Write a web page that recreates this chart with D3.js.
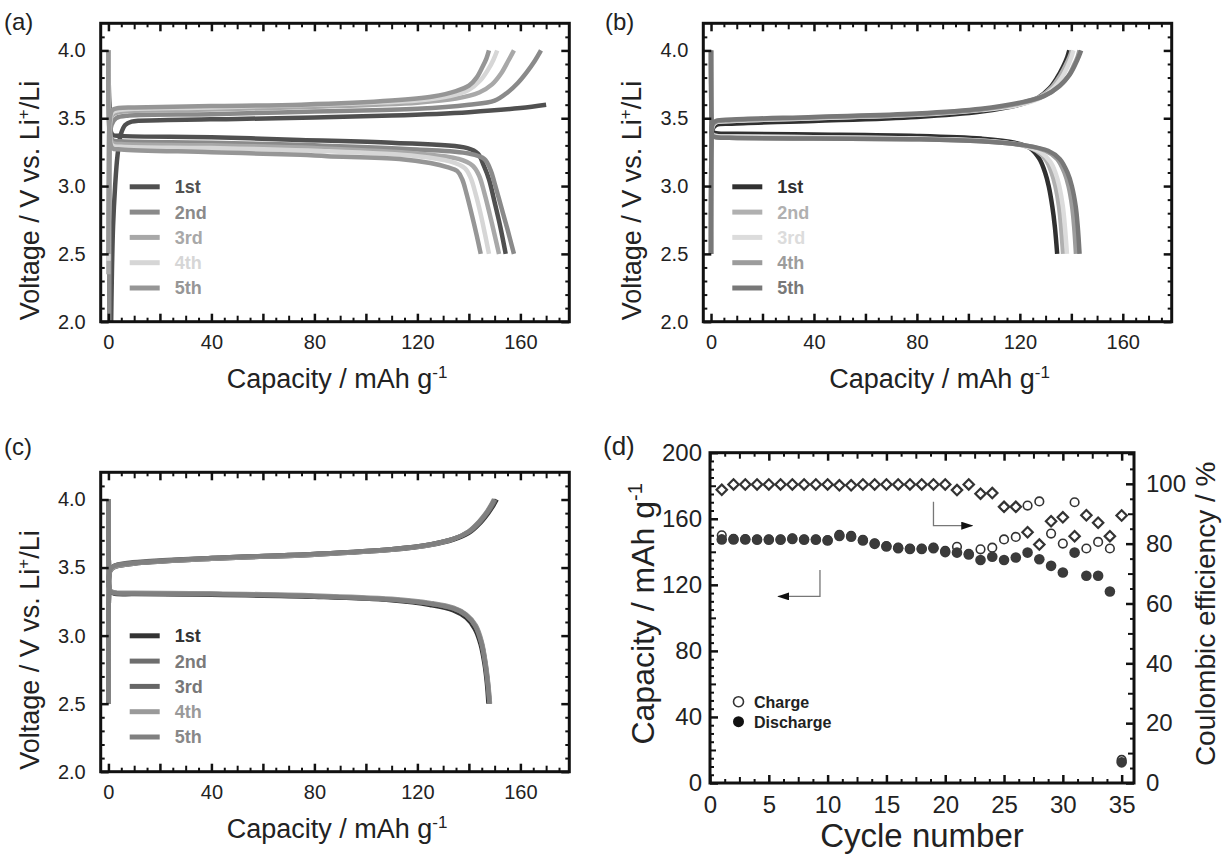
<!DOCTYPE html>
<html>
<head>
<meta charset="utf-8">
<style>
  body { margin: 0; background: #fff; }
  svg { display: block; font-family: "Liberation Sans", Arial, sans-serif; }
  .frame { fill: none; stroke: #111; stroke-width: 3; }
  .curve { fill: none; stroke-width: 4.5; stroke-linejoin: round; stroke-linecap: butt; }
  .lbl { font-size: 20px; fill: #222; }
  .ttl { font-size: 27px; fill: #222; }
  .leg { font-size: 18px; font-weight: bold; }
</style>
</head>
<body>
<svg width="1223" height="854"></svg>
<script src="https://d3js.org/d3.v7.min.js"></script>
<script>
// ---- data ----
var cycleNames = ["1st", "2nd", "3rd", "4th", "5th"];
var capTicks = [0, 40, 80, 120, 160];
var voltTicks = [2.0, 2.5, 3.0, 3.5, 4.0];

// panel (a)  [capacity mAh/g, voltage V]
var aColors = ["#505050", "#8a8a8a", "#a8a8a8", "#d6d6d6", "#969696"];
var aCharge = [
  [[1,1.9],[1.3,2.3],[1.8,2.7],[2.6,3.0],[3.5,3.22],[4.8,3.38],[6.5,3.45],[9,3.475],[20,3.485],[50,3.495],[80,3.505],[110,3.52],[140,3.545],[160,3.575],[170,3.6]],
  [[0.3,1.95],[0.4,2.8],[0.6,3.3],[1.2,3.45],[3,3.5],[8,3.52],[40,3.53],[80,3.55],[120,3.57],[140,3.6],[150,3.63],[155,3.69],[159,3.76],[162.5,3.84],[165.5,3.92],[168,4.0]],
  [[0,2.35],[0.2,3.0],[0.5,3.4],[1.5,3.52],[4,3.545],[10,3.555],[40,3.565],[80,3.585],[120,3.615],[135,3.645],[144,3.69],[149,3.75],[152.5,3.83],[155.2,3.92],[157.5,4.0]],
  [[0,2.45],[0.2,3.1],[0.5,3.45],[1.5,3.54],[4,3.56],[10,3.57],[40,3.58],[80,3.6],[120,3.63],[133,3.665],[140,3.71],[144.5,3.78],[147.5,3.86],[149.5,3.93],[151,4.0]],
  [[0,2.5],[0.2,3.2],[0.5,3.48],[1.5,3.56],[4,3.575],[10,3.58],[40,3.59],[75,3.6],[110,3.63],[126,3.66],[135,3.7],[140,3.74],[143,3.8],[145.3,3.88],[146.8,3.94],[147.8,4.0]]
];
var aDischarge = [
  [[0,4.0],[0.4,3.6],[1.5,3.38],[5,3.37],[40,3.36],[74.5,3.34],[110,3.32],[139.4,3.28],[143.5,3.24],[145.8,3.15],[147.8,3.05],[150,2.88],[152.2,2.7],[154.3,2.5]],
  [[0,4.0],[0.4,3.5],[1.5,3.34],[5,3.33],[40,3.32],[80,3.3],[120,3.27],[140,3.24],[146,3.2],[148.4,3.12],[150,3.02],[152.5,2.85],[155,2.68],[157.5,2.5]],
  [[0,4.0],[0.4,3.45],[1.5,3.32],[5,3.31],[40,3.3],[80,3.28],[120,3.24],[136,3.2],[141.5,3.15],[143.9,3.08],[146,2.95],[148,2.8],[150,2.64],[151.7,2.5]],
  [[0,4.0],[0.4,3.42],[1.5,3.3],[5,3.29],[40,3.28],[80,3.26],[120,3.22],[133,3.18],[138.5,3.13],[140.7,3.06],[142.5,2.95],[144.5,2.8],[146.2,2.65],[147.8,2.5]],
  [[0,4.0],[0.4,3.4],[1.5,3.28],[5,3.27],[40,3.25],[74.5,3.23],[85,3.22],[113,3.2],[125,3.17],[131.6,3.14],[135.5,3.11],[137.4,3.05],[139,2.95],[141,2.8],[143,2.64],[144.6,2.5]]
];

// panel (b)
var bColors = ["#303030", "#b0b0b0", "#dcdcdc", "#9c9c9c", "#787878"];
var bCharge = [
  [[0,2.5],[0.2,3.2],[0.6,3.42],[2,3.45],[8,3.46],[40,3.48],[80,3.51],[105,3.55],[120,3.6],[127,3.65],[131.5,3.72],[134.5,3.8],[136.8,3.88],[138.4,3.95],[139.2,4.0]],
  [[0,2.5],[0.2,3.25],[0.6,3.44],[2,3.47],[8,3.48],[40,3.5],[80,3.53],[105,3.565],[120,3.61],[128,3.66],[132.5,3.73],[135.5,3.81],[137.8,3.89],[139.3,3.95],[140.2,4.0]],
  [[0,2.5],[0.2,3.25],[0.6,3.44],[2,3.47],[8,3.48],[40,3.5],[80,3.525],[105,3.56],[120,3.6],[128,3.65],[133,3.72],[136.3,3.8],[138.5,3.88],[140,3.95],[140.8,4.0]],
  [[0,2.5],[0.2,3.3],[0.6,3.45],[2,3.475],[8,3.485],[40,3.505],[80,3.53],[105,3.565],[120,3.61],[129,3.66],[135,3.73],[138.8,3.81],[141,3.89],[142.4,3.95],[143.2,4.0]],
  [[0,2.5],[0.2,3.3],[0.6,3.46],[2,3.48],[8,3.49],[40,3.51],[80,3.535],[105,3.57],[120,3.615],[129.5,3.665],[135.5,3.74],[139.3,3.82],[141.6,3.9],[143,3.96],[143.8,4.0]]
];
var bDischarge = [
  [[0,4.0],[0.2,3.6],[0.6,3.4],[2,3.39],[10,3.385],[40,3.38],[80,3.37],[105,3.35],[118,3.32],[124,3.28],[127.6,3.2],[129.8,3.1],[131.2,3.0],[132.6,2.85],[133.6,2.7],[134.5,2.5]],
  [[0,4.0],[0.2,3.55],[0.6,3.38],[2,3.37],[10,3.365],[40,3.36],[80,3.35],[105,3.335],[120,3.305],[126.5,3.26],[130.2,3.19],[132.3,3.1],[133.8,3.0],[135.2,2.85],[136,2.7],[136.8,2.5]],
  [[0,4.0],[0.2,3.55],[0.6,3.38],[2,3.37],[10,3.365],[40,3.36],[80,3.35],[105,3.335],[121,3.3],[128,3.25],[131.8,3.18],[133.8,3.1],[135.3,3.0],[136.7,2.85],[137.5,2.7],[138.3,2.5]],
  [[0,4.0],[0.2,3.5],[0.6,3.37],[2,3.36],[10,3.355],[40,3.35],[80,3.345],[105,3.33],[122,3.3],[130,3.26],[134.5,3.2],[137.3,3.1],[138.9,3.0],[140.3,2.85],[141.1,2.7],[141.8,2.5]],
  [[0,4.0],[0.2,3.5],[0.6,3.37],[2,3.36],[10,3.355],[40,3.35],[80,3.345],[105,3.33],[122,3.3],[131,3.26],[135.5,3.2],[138.5,3.1],[140.2,3.0],[141.7,2.85],[142.5,2.7],[143.2,2.5]]
];

// panel (c)
var cColors = ["#333333", "#6e6e6e", "#666666", "#9a9a9a", "#808080"];
var cCharge = [
  [[0,2.5],[0.2,3.3],[0.6,3.47],[2,3.5],[8,3.525],[40,3.565],[80,3.595],[110,3.63],[125,3.665],[134,3.705],[140,3.755],[144.5,3.83],[147.5,3.9],[149.6,3.96],[150.8,4.0]],
  [[0,2.5],[0.2,3.3],[0.6,3.48],[2,3.51],[8,3.535],[40,3.57],[80,3.6],[110,3.635],[125,3.67],[134,3.71],[140,3.76],[144.2,3.83],[147.1,3.9],[149.2,3.96],[150.3,4.0]],
  [[0,2.5],[0.2,3.3],[0.6,3.48],[2,3.51],[8,3.53],[40,3.57],[80,3.6],[110,3.635],[125,3.67],[134,3.71],[140,3.765],[144,3.835],[146.9,3.9],[148.9,3.96],[150,4.0]],
  [[0,2.5],[0.2,3.3],[0.6,3.47],[2,3.5],[8,3.525],[40,3.565],[80,3.595],[110,3.63],[125,3.665],[134,3.71],[139.8,3.765],[143.8,3.835],[146.6,3.9],[148.6,3.96],[149.7,4.0]],
  [[0,2.5],[0.2,3.3],[0.6,3.48],[2,3.51],[8,3.53],[40,3.57],[80,3.6],[110,3.635],[125,3.67],[134,3.71],[140,3.765],[144,3.835],[146.8,3.9],[148.8,3.96],[149.9,4.0]]
];
var cDischarge = [
  [[0,4.0],[0.2,3.5],[0.6,3.33],[2,3.31],[10,3.305],[40,3.3],[80,3.285],[110,3.26],[125,3.225],[134,3.185],[139,3.13],[142.3,3.05],[144.5,2.94],[146,2.8],[147,2.65],[147.6,2.5]],
  [[0,4.0],[0.2,3.5],[0.6,3.33],[2,3.315],[10,3.31],[40,3.305],[80,3.29],[110,3.265],[125,3.235],[134,3.2],[139,3.15],[142.5,3.07],[144.8,2.95],[146.3,2.8],[147.3,2.65],[148,2.5]],
  [[0,4.0],[0.2,3.5],[0.6,3.33],[2,3.315],[10,3.31],[40,3.305],[80,3.29],[110,3.265],[125,3.235],[134,3.2],[139,3.15],[142.6,3.07],[144.9,2.95],[146.4,2.8],[147.4,2.65],[148.1,2.5]],
  [[0,4.0],[0.2,3.5],[0.6,3.335],[2,3.32],[10,3.315],[40,3.31],[80,3.295],[110,3.27],[125,3.24],[134,3.205],[139,3.155],[142.7,3.075],[145,2.955],[146.5,2.8],[147.5,2.65],[148.2,2.5]],
  [[0,4.0],[0.2,3.5],[0.6,3.33],[2,3.315],[10,3.31],[40,3.305],[80,3.29],[110,3.265],[125,3.235],[134,3.2],[139,3.15],[142.5,3.07],[144.8,2.95],[146.3,2.8],[147.3,2.65],[148,2.5]]
];

// panel (d)
var cycles = [1,2,3,4,5,6,7,8,9,10,11,12,13,14,15,16,17,18,19,20,21,22,23,24,25,26,27,28,29,30,31,32,33,34,35];
var chargeCap = [150, 147.8, 147.7, 147.6, 147.6, 147.6, 148.1, 147.6, 147.6, 147.1, 150.2, 149.6, 147.2, 145.1, 143.5, 142.5, 142, 142, 142.5, 140.5,
                 143, 138.7, 141.5, 142.5, 147.5, 149, 168, 170.5, 151, 145, 170, 142, 146, 142, 14];
var dischargeCap = [147.5, 147.5, 147.4, 147.3, 147.3, 147.3, 147.8, 147.3, 147.3, 146.8, 149.6, 149.1, 146.9, 144.8, 143.2, 142.2, 141.7, 141.7, 142.2, 139.8,
                    139.5, 138.4, 135, 137, 135, 136.5, 139.5, 135.5, 131.5, 127.5, 139.5, 125.5, 125.5, 116, 12.5];
var coulombEff = [98, 99.8, 99.8, 99.8, 99.8, 99.8, 99.8, 99.8, 99.8, 99.8, 99.5, 99.5, 99.8, 99.8, 99.8, 99.8, 99.8, 99.8, 99.8, 99.8,
                  97.9, 99.8, 96.7, 96.9, 92.3, 92.3, 83.8, 79.7, 87.5, 88.8, 82.5, 89.5, 87, 82.5, 89.4];
var cycleTicks = [0, 5, 10, 15, 20, 25, 30, 35];
var capDTicks = [0, 40, 80, 120, 160, 200];
var ceTicks = [0, 20, 40, 60, 80, 100];

var svg = d3.select("svg");

svg.append("defs").append("marker")
    .attr("id", "arrowhead")
    .attr("viewBox", "0 0 12 8")
    .attr("refX", 11).attr("refY", 4)
    .attr("markerWidth", 12).attr("markerHeight", 8)
    .attr("markerUnits", "userSpaceOnUse")
    .attr("orient", "auto")
  .append("path")
    .attr("d", "M0,0 L12,4 L0,8 Z")
    .attr("fill", "#111");

// inward ticks on one side of a frame
function ticks(g, scale, vals, side, len, sw, w, h) {
  var ax;
  if (side == "bottom") ax = d3.axisBottom(scale);
  if (side == "top") ax = d3.axisTop(scale);
  if (side == "left") ax = d3.axisLeft(scale);
  if (side == "right") ax = d3.axisRight(scale);
  var t = g.append("g")
    .attr("transform", side == "bottom" ? "translate(0," + h + ")" : side == "right" ? "translate(" + w + ",0)" : null)
    .call(ax.tickValues(vals).tickSize(-len).tickFormat(""));
  t.select(".domain").remove();
  t.selectAll("line").attr("stroke", "#111").attr("stroke-width", sw);
}

function labels(g, scale, vals, side, pad, fmt, w, h, size) {
  var ax = side == "bottom" ? d3.axisBottom(scale) : side == "left" ? d3.axisLeft(scale) : d3.axisRight(scale);
  var t = g.append("g")
    .attr("transform", side == "bottom" ? "translate(0," + h + ")" : side == "right" ? "translate(" + w + ",0)" : null)
    .call(ax.tickValues(vals).tickSize(0).tickPadding(pad).tickFormat(fmt));
  t.select(".domain").remove();
  t.attr("font-family", null).attr("font-size", null);
  t.selectAll("text").attr("class", "lbl").style("font-size", size + "px");
}

function voltPanel(box, charge, discharge, colors, legColors, tag, id) {
  var w = box.w, h = box.h;
  var g = svg.append("g").attr("transform", "translate(" + box.left + "," + box.top + ")");
  var x = d3.scaleLinear().domain([-3, 179]).range([0, w]);
  var y = d3.scaleLinear().domain([2, 4.2]).range([h, 0]);

  g.append("clipPath").attr("id", "clip" + id)
    .append("rect").attr("width", w).attr("height", h);

  var line = d3.line()
    .x(function(d) { return x(d[0]); })
    .y(function(d) { return y(d[1]); })
    .curve(d3.curveCatmullRom.alpha(0.5));

  var plot = g.append("g").attr("clip-path", "url(#clip" + id + ")");
  charge.forEach(function(c, i) {
    plot.append("path").attr("class", "curve").attr("stroke", colors[i]).attr("d", line(c));
    plot.append("path").attr("class", "curve").attr("stroke", colors[i]).attr("d", line(discharge[i]));
  });

  // ticks
  var xMajor = d3.range(0, 180, 20), xMid = d3.range(10, 180, 20), xMinor = d3.range(5, 180, 10);
  var yMajor = voltTicks, yMinor = [2.1,2.2,2.3,2.4,2.6,2.7,2.8,2.9,3.1,3.2,3.3,3.4,3.6,3.7,3.8,3.9,4.1];
  ["bottom", "top"].forEach(function(s) {
    ticks(g, x, xMajor, s, 8, 2.5, w, h);
    ticks(g, x, xMid, s, 6, 2, w, h);
    ticks(g, x, xMinor, s, 4, 2, w, h);
  });
  ["left", "right"].forEach(function(s) {
    ticks(g, y, yMajor, s, 8, 2.5, w, h);
    ticks(g, y, yMinor, s, 4, 2, w, h);
  });
  g.append("rect").attr("class", "frame").attr("width", w).attr("height", h);

  labels(g, x, capTicks, "bottom", 13, d3.format("d"), w, h, 20);
  labels(g, y, voltTicks, "left", 15, d3.format(".1f"), w, h, 20);

  // legend
  cycleNames.forEach(function(n, i) {
    var ly = 163.5 + i * 25.3;
    g.append("line").attr("x1", 29).attr("x2", 59).attr("y1", ly).attr("y2", ly)
      .attr("stroke", colors[i]).attr("stroke-width", 5);
    g.append("text").attr("class", "leg").attr("x", 74).attr("y", ly + 6.5)
      .attr("fill", legColors[i]).text(n);
  });

  // titles
  var xt = g.append("text").attr("class", "ttl").attr("text-anchor", "middle")
    .attr("x", w / 2 + 2).attr("y", h + 66);
  xt.append("tspan").text("Capacity / mAh g");
  xt.append("tspan").attr("dy", -10).style("font-size", "17px").text("-1");

  var yt = g.append("text").attr("class", "ttl").attr("text-anchor", "middle")
    .attr("transform", "translate(" + (-62) + "," + (h / 2 + 28) + ") rotate(-90)");
  yt.append("tspan").text("Voltage / V vs. Li");
  yt.append("tspan").attr("dy", -10).style("font-size", "17px").text("+");
  yt.append("tspan").attr("dy", 10).text("/Li");

  g.append("text").attr("x", tag.x - box.left).attr("y", tag.y - box.top)
    .style("font-size", "24px").attr("fill", "#222").text(tag.text);
}

voltPanel({left: 100.7, top: 23.3, w: 468.6, h: 298.4}, aCharge, aDischarge, aColors,
  ["#505050", "#8a8a8a", "#a8a8a8", "#d6d6d6", "#969696"], {text: "(a)", x: 4, y: 30}, "a");
voltPanel({left: 703.3, top: 23.3, w: 468.4, h: 298.4}, bCharge, bDischarge, bColors,
  ["#303030", "#b0b0b0", "#dcdcdc", "#9c9c9c", "#787878"], {text: "(b)", x: 605, y: 30}, "b");
voltPanel({left: 100.7, top: 472.3, w: 468.6, h: 299.4}, cCharge, cDischarge, cColors,
  ["#333333", "#7a7a7a", "#777777", "#9a9a9a", "#888888"], {text: "(c)", x: 4, y: 455}, "c");

// ---- panel (d) ----
(function() {
  var box = {left: 710, top: 452.7, w: 424, h: 330.3};
  var w = box.w, h = box.h;
  var g = svg.append("g").attr("transform", "translate(" + box.left + "," + box.top + ")");
  var x = d3.scaleLinear().domain([0, 36.05]).range([0, w]);
  var y = d3.scaleLinear().domain([0, 200]).range([h, 0]);
  var y2 = d3.scaleLinear().domain([0, 110.4]).range([h, 0]);

  ["bottom", "top"].forEach(function(s) {
    ticks(g, x, cycleTicks, s, 8, 2.5, w, h);
    ticks(g, x, d3.range(2.5, 36, 5), s, 6, 2, w, h);
    ticks(g, x, [1.25,3.75,6.25,8.75,11.25,13.75,16.25,18.75,21.25,23.75,26.25,28.75,31.25,33.75], s, 4, 2, w, h);
  });
  ticks(g, y, capDTicks, "left", 8, 2.5, w, h);
  ticks(g, y, d3.range(20, 200, 40), "left", 6, 2, w, h);
  ticks(g, y, d3.range(5, 200, 5).filter(function(v) { return v % 20 != 0; }), "left", 4, 2, w, h);
  ticks(g, y2, ceTicks, "right", 8, 2.5, w, h);
  ticks(g, y2, d3.range(10, 111, 20), "right", 6, 2, w, h);
  ticks(g, y2, d3.range(5, 111, 10), "right", 4, 2, w, h);
  g.append("rect").attr("class", "frame").attr("width", w).attr("height", h);

  labels(g, x, cycleTicks, "bottom", 13, d3.format("d"), w, h, 24);
  labels(g, y, capDTicks, "left", 8, d3.format("d"), w, h, 24);
  labels(g, y2, ceTicks, "right", 12, d3.format("d"), w, h, 24);

  // charge (open), discharge (filled), efficiency (diamond)
  g.selectAll(".chg").data(cycles).enter().append("circle")
    .attr("cx", function(d) { return x(d); })
    .attr("cy", function(d, i) { return y(chargeCap[i]); })
    .attr("r", 4.3).attr("fill", "#fff").attr("stroke", "#333").attr("stroke-width", 1.6);
  g.selectAll(".dis").data(cycles).enter().append("circle")
    .attr("cx", function(d) { return x(d); })
    .attr("cy", function(d, i) { return y(dischargeCap[i]); })
    .attr("r", 5.3).attr("fill", "#3a3a3a");
  g.selectAll(".ce").data(cycles).enter().append("path")
    .attr("transform", function(d, i) { return "translate(" + x(d) + "," + y2(coulombEff[i]) + ")"; })
    .attr("d", "M0,-5.2 L5.2,0 L0,5.2 L-5.2,0 Z")
    .attr("fill", "#fff").attr("stroke", "#333").attr("stroke-width", 2.2);

  // arrows
  var arrLine = d3.line().x(function(d) { return x(d[0]); });
  g.append("path")
    .attr("d", arrLine.y(function(d) { return y2(d[1]); })([[19, 94], [19, 86], [22.3, 86]]))
    .attr("fill", "none").attr("stroke", "#777").attr("stroke-width", 1.3)
    .attr("marker-end", "url(#arrowhead)");
  g.append("path")
    .attr("d", arrLine.y(function(d) { return y(d[1]); })([[9.35, 129], [9.35, 113], [5.8, 113]]))
    .attr("fill", "none").attr("stroke", "#777").attr("stroke-width", 1.3)
    .attr("marker-end", "url(#arrowhead)");

  // legend
  g.append("circle").attr("cx", 28.5).attr("cy", 249).attr("r", 5)
    .attr("fill", "#fff").attr("stroke", "#333").attr("stroke-width", 1.6);
  g.append("circle").attr("cx", 28.5).attr("cy", 269).attr("r", 5.5).attr("fill", "#111");
  g.append("text").attr("x", 44).attr("y", 255).style("font-size", "16px").style("font-weight", "bold")
    .attr("fill", "#222").text("Charge");
  g.append("text").attr("x", 44).attr("y", 275).style("font-size", "16px").style("font-weight", "bold")
    .attr("fill", "#222").text("Discharge");

  // titles
  g.append("text").attr("class", "ttl").style("font-size", "33px").attr("text-anchor", "middle")
    .attr("x", w / 2).attr("y", h + 64).text("Cycle number");
  var lt = g.append("text").attr("class", "ttl").style("font-size", "32px").attr("text-anchor", "middle")
    .attr("transform", "translate(-56," + (h / 2 - 4) + ") rotate(-90)");
  lt.append("tspan").text("Capacity / mAh g");
  lt.append("tspan").attr("dy", -12).style("font-size", "20px").text("-1");
  g.append("text").attr("class", "ttl").style("font-size", "28px").attr("text-anchor", "middle")
    .attr("transform", "translate(" + (w + 81) + "," + (h / 2 - 4) + ") rotate(-90)")
    .text("Coulombic efficiency / %");

  g.append("text").attr("x", -107).attr("y", 2)
    .style("font-size", "26px").attr("fill", "#222").text("(d)");
})();
</script>
</body>
</html>
